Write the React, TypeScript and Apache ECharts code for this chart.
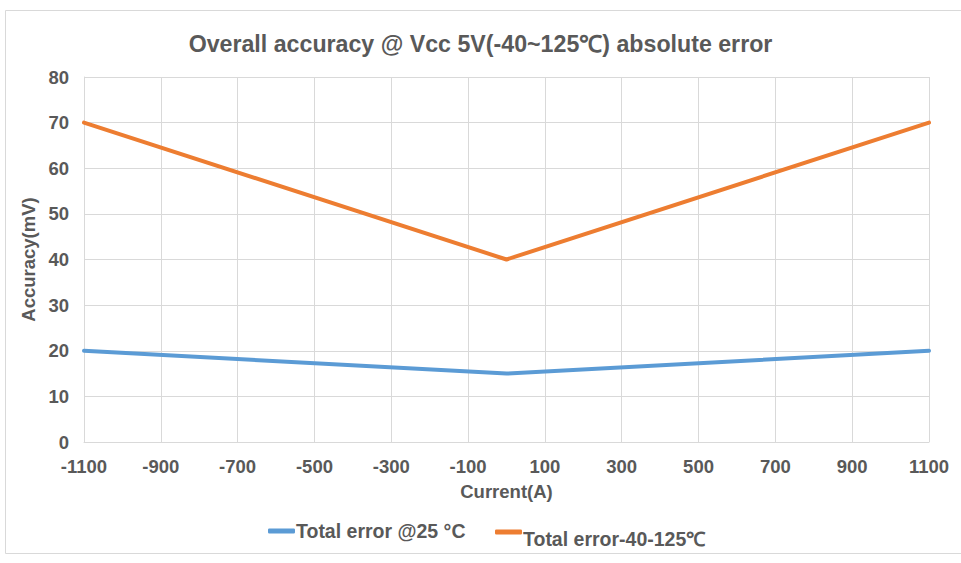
import React, { useEffect, useRef } from "react";
import * as echarts from "echarts";

const X_MIN = -1100;
const X_MAX = 1100;
const X_STEP = 200;
const currents = [-1100, 0, 1100];
const error25 = [20, 15, 20];
const errorFull = [70, 40, 70];
const seriesNames = ["Total error @25 °C", "Total error-40-125℃"];
const titleText = "Overall accuracy @ Vcc 5V(-40~125℃) absolute error";

const FONT = "Arial, 'Liberation Sans', sans-serif";
const GRAY = "#595959";
const GRID = "#D9D9D9";

export default function App() {
  const ref = useRef<HTMLDivElement>(null);
  useEffect(() => {
    document.body.style.margin = "0";
    const chart = echarts.init(ref.current!, null, { renderer: "svg" });
    const toData = (ys: number[]) => currents.map((x, i) => [x - X_MIN, ys[i]]);
    const legendText = { fontFamily: FONT, fontSize: 19.5, fontWeight: "bold", color: GRAY };
    chart.setOption({
      animation: false,
      backgroundColor: "#fff",
      textStyle: { fontFamily: FONT },
      title: {
        text: titleText,
        left: "center",
        top: 27,
        textStyle: { fontFamily: FONT, fontSize: 23.2, fontWeight: "bold", color: GRAY },
      },
      graphic: [
        {
          type: "rect",
          shape: { x: 5.5, y: 10.5, width: 1000, height: 543 },
          style: { fill: "none", stroke: GRID, lineWidth: 1 },
          silent: true,
        },
      ],
      legend: [
        {
          data: [seriesNames[0]],
          left: 263,
          top: 516,
          icon: "roundRect",
          itemWidth: 27,
          itemHeight: 5,
          textStyle: { ...legendText, padding: [0, 0, 0, -4] },
        },
        {
          data: [seriesNames[1]],
          left: 490,
          top: 514,
          icon: "roundRect",
          itemWidth: 27,
          itemHeight: 5,
          formatter: (n: string) => `{s| }\n{b|${n}}`,
          textStyle: {
            ...legendText,
            rich: {
              s: { ...legendText, fontSize: 4, lineHeight: 13 },
              b: { ...legendText, lineHeight: 22, padding: [0, 0, 0, -4] },
            },
          },
        },
      ],
      grid: { left: 84, right: 32, top: 77, bottom: 121, containLabel: false },
      xAxis: {
        type: "value",
        min: 0,
        max: X_MAX - X_MIN,
        interval: X_STEP,
        name: "Current(A)",
        nameLocation: "middle",
        nameGap: 40,
        nameTextStyle: { fontFamily: FONT, fontSize: 18.5, fontWeight: "bold", color: GRAY },
        axisLine: { show: true, lineStyle: { color: GRID, width: 1 } },
        axisTick: { show: false },
        axisLabel: {
          margin: 15,
          fontFamily: FONT,
          fontSize: 18.5,
          fontWeight: "bold",
          color: GRAY,
          formatter: (v: number) => String(v + X_MIN),
        },
        splitLine: { show: true, lineStyle: { color: GRID, width: 1 } },
      },
      yAxis: {
        type: "value",
        min: 0,
        max: 80,
        interval: 10,
        name: "Accuracy(mV)",
        nameLocation: "middle",
        nameGap: 36,
        nameTextStyle: { fontFamily: FONT, fontSize: 18.5, fontWeight: "bold", color: GRAY },
        axisLine: { show: true, lineStyle: { color: GRID, width: 1 } },
        axisTick: { show: false },
        axisLabel: { margin: 15, fontFamily: FONT, fontSize: 18.5, fontWeight: "bold", color: GRAY },
        splitLine: { show: true, lineStyle: { color: GRID, width: 1 } },
      },
      series: [
        {
          name: seriesNames[0],
          type: "line",
          data: toData(error25),
          showSymbol: false,
          symbol: "none",
          lineStyle: { color: "#5B9BD5", width: 4, cap: "round" },
          itemStyle: { color: "#5B9BD5" },
        },
        {
          name: seriesNames[1],
          type: "line",
          data: toData(errorFull),
          showSymbol: false,
          symbol: "none",
          lineStyle: { color: "#ED7D31", width: 4, cap: "round" },
          itemStyle: { color: "#ED7D31" },
        },
      ],
    });
    return () => chart.dispose();
  }, []);
  return <div ref={ref} style={{ width: 961, height: 563 }} />;
}
